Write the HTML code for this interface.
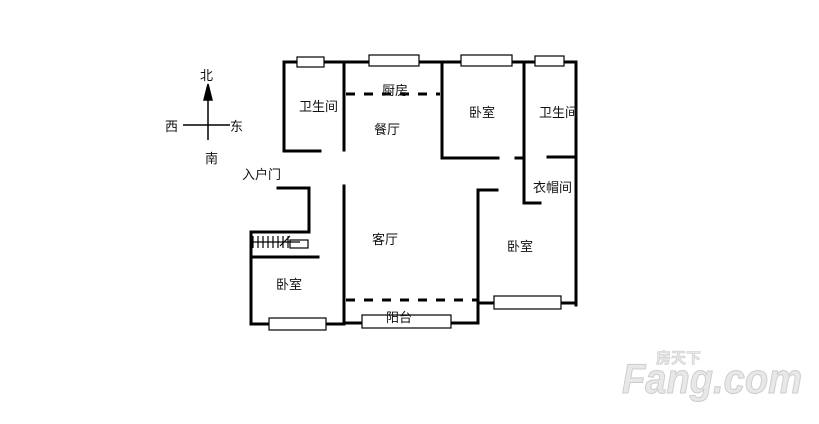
<!DOCTYPE html><html><head><meta charset="utf-8"><style>
body{margin:0;background:#fff;width:819px;height:419px;overflow:hidden}
svg text{font-family:"Liberation Sans","Noto Sans CJK SC",sans-serif;font-size:13px;fill:#111}
</style></head><body>
<svg width="819" height="419" viewBox="0 0 819 419">
<g stroke="#000" stroke-width="3" fill="none" stroke-linecap="square">
<path d="M284 62H576V305"/>
<path d="M284 62V150M284 151H320"/>
<path d="M344 62V150"/>
<path d="M442 62V158H498M516 158H522"/>
<path d="M524 62V158M524 160V203H540M548 157H575"/>
<path d="M278 188H309V232H251V324H344"/>
<path d="M251 257H318"/>
<path d="M344 186V324"/>
<path d="M344 323H478V190H497"/>
<path d="M478 303H576"/>
</g>
<g stroke="#000" stroke-width="3" stroke-dasharray="9,9">
<path d="M346 94H440"/><path d="M346 300H477"/>
</g>
<g fill="#fff" stroke="#000" stroke-width="1.2">
<rect x="297" y="57" width="27" height="10"/><rect x="369" y="55" width="50" height="11"/>
<rect x="461" y="55" width="51" height="11"/><rect x="535" y="56" width="29" height="10"/>
<rect x="269" y="318" width="57" height="12"/><rect x="362" y="315" width="89" height="13"/>
<rect x="494" y="296" width="67" height="13"/>
<rect x="290" y="240" width="18" height="8"/>
</g>
<g stroke="#000" stroke-width="1.2"><path d="M253 236V248M258 236V248M263 236V248M268 236V248M273 236V248M278 236V248M283 236V248M288 236V248M252 242H300M280 246L290 236"/></g>
<g stroke="#000" stroke-width="1.5"><path d="M208 88V140M183 125H230"/><path d="M208 84L204 100H212Z" fill="#000"/></g>
<text x="200" y="80">北</text><text x="165" y="131">西</text><text x="230" y="131">东</text><text x="205" y="163">南</text>
<text x="242" y="179">入户门</text>
<text x="299" y="111">卫生间</text><text x="382" y="95">厨房</text><text x="374" y="134" fill="#555">餐厅</text>
<text x="469" y="117">卧室</text><text x="539" y="117">卫生间</text><text x="533" y="192">衣帽间</text>
<text x="372" y="244">客厅</text><text x="507" y="251">卧室</text><text x="276" y="289" fill="#666">卧室</text>
<text x="386" y="322">阳台</text>
<text x="622" y="393" textLength="180" lengthAdjust="spacingAndGlyphs" style="font-size:42px;font-weight:bold;font-style:italic;fill:#e8e8e8;stroke:#ccc;stroke-width:1">Fang.com</text>
<text x="656" y="363" style="font-size:15px;font-weight:bold;fill:#e8e8e8;stroke:#ccc;stroke-width:.6">房天下</text>
</svg></body></html>
